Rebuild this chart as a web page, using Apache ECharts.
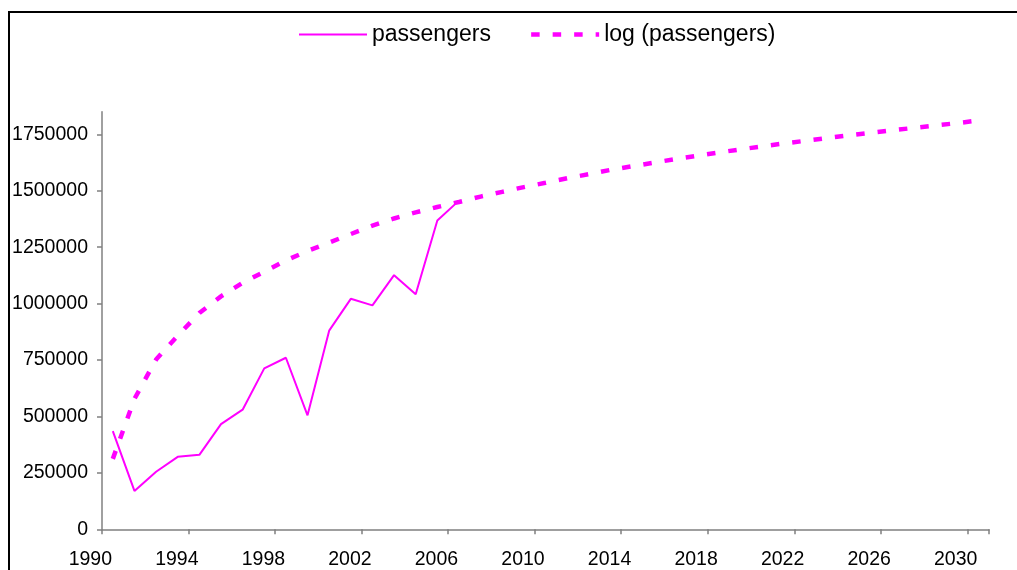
<!DOCTYPE html>
<html>
<head>
<meta charset="utf-8">
<script src="https://cdn.jsdelivr.net/npm/echarts@6/dist/echarts.min.js"></script>
<style>
html,body{margin:0;padding:0;background:#fff;}
#chart{width:1017px;height:570px;}
</style>
</head>
<body>
<div id="chart"></div>
<script>
const years = ['1990','1991','1992','1993','1994','1995','1996','1997','1998','1999',
  '2000','2001','2002','2003','2004','2005','2006','2007','2008','2009',
  '2010','2011','2012','2013','2014','2015','2016','2017','2018','2019',
  '2020','2021','2022','2023','2024','2025','2026','2027','2028','2029','2030'];
const passengers = [435000, 170000, 255000, 321000, 330000, 466000, 530000, 713000, 760000, 505000,
  880000, 1021000, 992000, 1126000, 1041000, 1368000, 1456000];
const logPassengers = [312000, 578000, 752000, 858000, 958000, 1032000, 1092000, 1141000, 1191000, 1233000,
  1270000, 1308000, 1345000, 1377000, 1404000, 1428000, 1450000, 1474000, 1495000, 1516000,
  1535000, 1555000, 1573000, 1592000, 1608000, 1624000, 1640000, 1655000, 1669000, 1683000,
  1696000, 1709000, 1721000, 1733000, 1745000, 1756000, 1767000, 1778000, 1789000, 1799000, 1811000];
const yTicks = [0, 250000, 500000, 750000, 1000000, 1250000, 1500000, 1750000];
const seriesNames = ['passengers', 'log (passengers)'];

const chart = echarts.init(document.getElementById('chart'), null, {renderer: 'canvas'});
const font = 'Liberation Sans, Arial, sans-serif';
const axisGrey = '#808080';
chart.setOption({
  animation: false,
  backgroundColor: '#fff',
  graphic: [{
    type: 'polyline',
    shape: {points: [[9, 570], [9, 12], [1017, 12]]},
    style: {stroke: '#000', lineWidth: 2, fill: null},
    silent: true
  }],
  legend: {
    left: 293,
    top: 18,
    itemWidth: 68,
    itemHeight: 14,
    itemGap: 38,
    textStyle: {color: '#000', fontSize: 23, fontFamily: font},
    itemStyle: {opacity: 0, color: 'transparent', borderWidth: 0},
    lineStyle: {opacity: 1},
    data: [
      {name: seriesNames[0]},
      {name: seriesNames[1], lineStyle: {width: 4.5, opacity: 1}}
    ]
  },
  grid: {left: 102, right: 28, top: 111.7, bottom: 40.7, containLabel: false},
  xAxis: {
    type: 'category',
    data: years,
    boundaryGap: true,
    axisLine: {lineStyle: {color: axisGrey, width: 1.5}},
    axisTick: {show: true, interval: 3, length: 5, alignWithLabel: false, lineStyle: {color: axisGrey, width: 1.5}},
    axisLabel: {interval: 3, color: '#000', fontSize: 19.5, fontFamily: font, margin: 20, padding: [0, 45, 0, 0]},
    splitLine: {show: false}
  },
  yAxis: {
    type: 'value',
    min: 0,
    max: 1850000,
    interval: 250000,
    axisLine: {show: true, lineStyle: {color: axisGrey, width: 1.5}},
    axisTick: {show: true, length: 5, customValues: yTicks, lineStyle: {color: axisGrey, width: 1.5}},
    axisLabel: {color: '#000', fontSize: 19.5, fontFamily: font, margin: 14, customValues: yTicks,
      formatter: v => String(v)},
    splitLine: {show: false}
  },
  series: [
    {
      name: seriesNames[0],
      type: 'line',
      data: passengers,
      symbol: 'none',
      lineStyle: {color: '#FF00FF', width: 2},
      itemStyle: {color: '#FF00FF'}
    },
    {
      name: seriesNames[1],
      type: 'line',
      data: logPassengers,
      symbol: 'none',
      smooth: false,
      lineStyle: {color: '#FF00FF', width: 4.5, type: [8.5, 13], cap: 'butt'},
      itemStyle: {color: '#FF00FF'}
    }
  ]
});
</script>
</body>
</html>
